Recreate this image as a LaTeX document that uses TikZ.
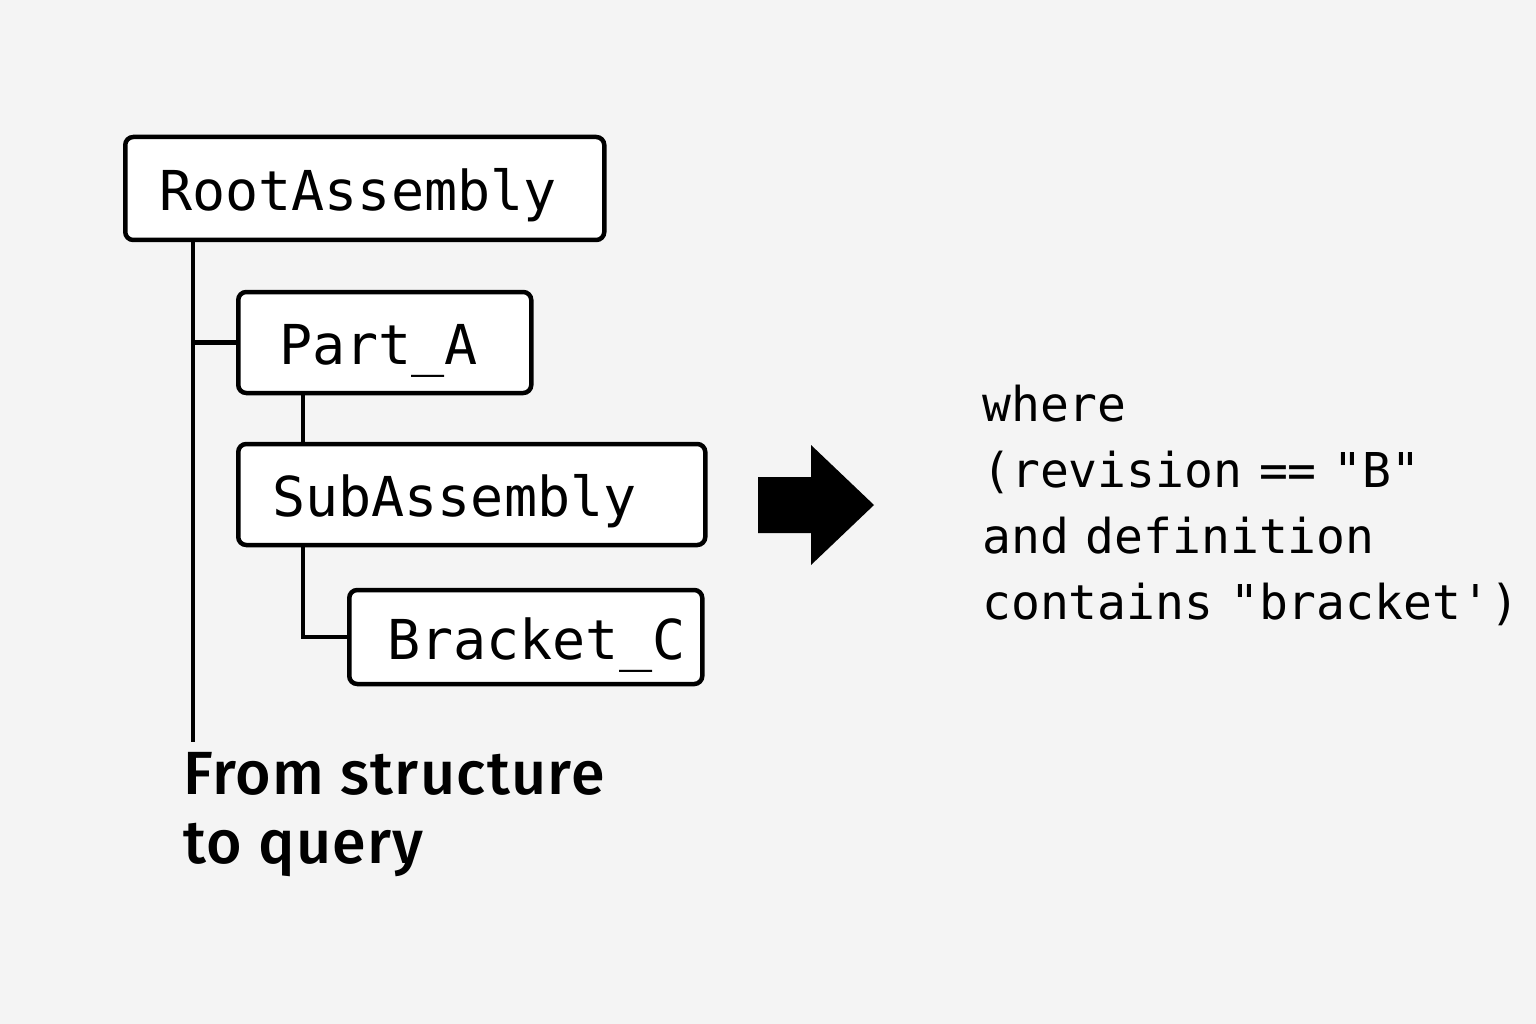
\documentclass[tikz,border=0pt]{standalone}
\usepackage{fontspec}
\newfontfamily\monofnt{DejaVu Sans Mono}
\newfontfamily\labelfnt{Fira Sans}[UprightFont=* Medium, LetterSpace=2]
\definecolor{bg}{HTML}{F4F4F4}
\newcommand{\qsp}{\hspace{0.35em}}
\begin{document}
\begin{tikzpicture}[x=1pt,y=-1pt,
  treebox/.style={draw=black, line width=4.5pt, fill=white, rounded corners=8pt,
    anchor=west, align=left, inner ysep=0pt, text height=44pt, text depth=0pt,
    font=\monofnt\fontsize{55}{60}\selectfont},
  link/.style={draw=black, line width=4.5pt},
  querytext/.style={anchor=north west, inner sep=0pt, align=left,
    font=\monofnt\fontsize{48}{66}\selectfont},
  caption/.style={anchor=north west, inner sep=0pt, align=left,
    font=\labelfnt\fontsize{61}{69}\selectfont}]
  \fill[bg] (0,0) rectangle (1536,1024);
  \useasboundingbox (0,0) rectangle (1536,1024);

  \node[treebox, text width=411pt, inner xsep=34pt, minimum height=103pt] (root) at (123,188.5) {RootAssembly};
  \node[treebox, text width=211pt, inner xsep=41pt, minimum height=101pt] (parta) at (236,342.5) {Part\_A};
  \node[treebox, text width=399pt, inner xsep=34pt, minimum height=101pt] (sub) at (236,494.5) {SubAssembly};
  \node[treebox, text width=277pt, inner xsep=38pt, minimum height=94pt] (brk) at (347,637) {Bracket\_C};

  \coordinate (trunkend) at (193,742);
  \draw[link] (root.south -| trunkend) -- (trunkend);
  \draw[link] (parta.west -| trunkend) -- (parta.west);
  \draw[link] ([xshift=67pt]parta.south west) -- ([xshift=67pt]sub.north west);
  \draw[link] ([xshift=67pt]sub.south west) |- (brk.west);

  \fill[black] (758,477) -- (811,477) -- (811,445) -- (874,505) -- (811,565) -- (811,533) -- (758,533) -- cycle;

  \node[querytext] (query) at (982,385) {where\\(revision\qsp==\qsp"B"\\and\qsp definition\\contains\qsp"bracket')};

  \node[caption] (cap) at (183,752) {From structure\\to query};
\end{tikzpicture}
\end{document}
